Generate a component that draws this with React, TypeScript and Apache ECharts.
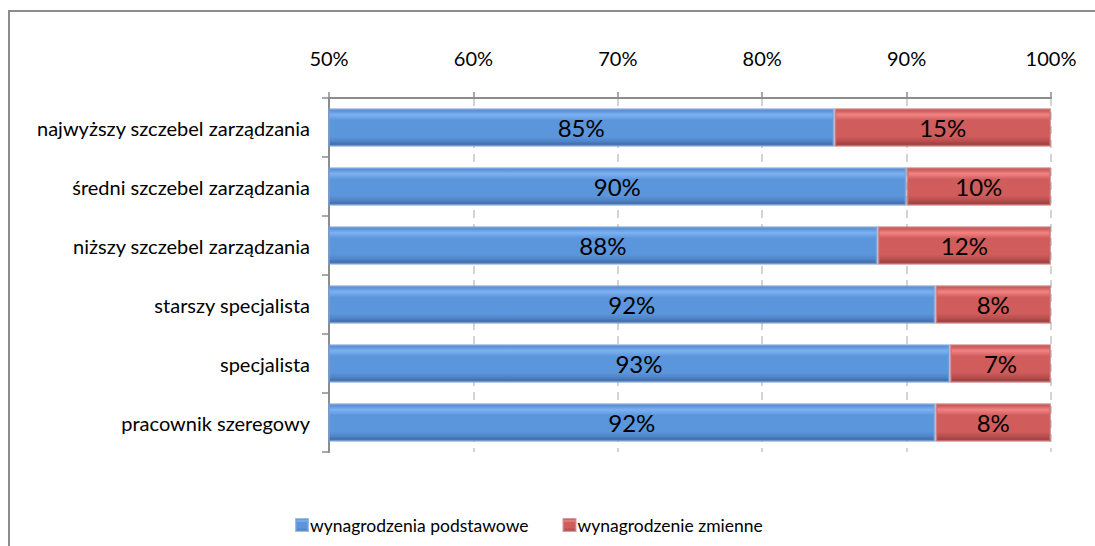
import React, { useEffect, useRef } from "react";
import * as echarts from "echarts";

const categories = [
  "najwyższy szczebel zarządzania",
  "średni szczebel zarządzania",
  "niższy szczebel zarządzania",
  "starszy specjalista",
  "specjalista",
  "pracownik szeregowy",
];
const seriesNames = ["wynagrodzenia podstawowe", "wynagrodzenie zmienne"];
const basicPay = [85, 90, 88, 92, 93, 92];
const variablePay = [15, 10, 12, 8, 7, 8];
const xTicks = [50, 60, 70, 80, 90, 100];

const FONT = "Lato, 'Open Sans', sans-serif";

function grad(top: string, hi: string, mid: string, low: string, bottom: string) {
  return new echarts.graphic.LinearGradient(0, 0, 0, 1, [
    { offset: 0, color: top },
    { offset: 0.15, color: hi },
    { offset: 0.3, color: mid },
    { offset: 0.75, color: mid },
    { offset: 0.88, color: low },
    { offset: 1, color: bottom },
  ]);
}

export default function App() {
  const ref = useRef<HTMLDivElement>(null);
  useEffect(() => {
    if (!ref.current) return;
    const chart = echarts.init(ref.current, undefined, { renderer: "svg" });
    const blue = grad("#4F86CF", "#7DB2F2", "#5B96DC", "#4F84C8", "#3C6398");
    const red = grad("#C04E4E", "#F28484", "#D05C5C", "#B84E4E", "#8E3B3B");
    chart.setOption({
      animation: false,
      backgroundColor: "#fff",
      textStyle: { fontFamily: FONT },
      graphic: [
        {
          type: "rect",
          shape: { x: 9, y: 11, width: 1200, height: 600 },
          style: { fill: "none", stroke: "#8c8c8c", lineWidth: 2 },
          silent: true,
        },
      ],
      grid: { left: 329, right: 44, top: 98, bottom: 94 },
      xAxis: {
        type: "value",
        position: "top",
        min: 50,
        max: 100,
        interval: 10,
        axisLine: { show: true, lineStyle: { color: "#8c8c8c", width: 2 } },
        axisTick: { show: true, length: 6, lineStyle: { color: "#8c8c8c", width: 1.5 } },
        axisLabel: {
          margin: 30,
          fontSize: 20,
          color: "#000",
          fontFamily: FONT,
          formatter: (v: number) => (xTicks.includes(v) ? v + "%" : ""),
        },
        splitLine: {
          show: true,
          lineStyle: { color: "#d4d4d4", type: [8, 6], width: 2 },
        },
      },
      yAxis: {
        type: "category",
        inverse: true,
        data: categories,
        axisLine: { show: true, lineStyle: { color: "#8c8c8c", width: 2 } },
        axisTick: { show: true, length: 7, lineStyle: { color: "#8c8c8c", width: 1.5 } },
        axisLabel: { margin: 19, fontSize: 20, color: "#000", fontFamily: FONT },
      },
      legend: {
        left: 290,
        top: 511,
        itemWidth: 12,
        itemHeight: 12,
        itemGap: 34,
        icon: "rect",
        textStyle: { fontSize: 17.5, color: "#000", fontFamily: FONT, padding: [0, 0, 0, -3] },
        data: seriesNames,
      },
      series: [
        {
          name: seriesNames[0],
          type: "bar",
          stack: "total",
          data: basicPay,
          barCategoryGap: "35%",
          clip: true,
          itemStyle: { color: blue, borderColor: "rgba(120,160,215,0.7)", borderWidth: 2 },
          label: {
            show: true,
            position: "inside",
            fontSize: 24,
            color: "#000",
            fontFamily: FONT,
            formatter: "{c}%",
          },
        },
        {
          name: seriesNames[1],
          type: "bar",
          stack: "total",
          data: variablePay,
          clip: true,
          itemStyle: { color: red, borderColor: "rgba(200,110,110,0.7)", borderWidth: 2 },
          label: {
            show: true,
            position: "inside",
            fontSize: 24,
            color: "#000",
            fontFamily: FONT,
            formatter: "{c}%",
          },
        },
      ],
    });
    return () => chart.dispose();
  }, []);
  return (
    <div
      ref={ref}
      style={{ position: "fixed", left: 0, top: 0, width: 1095, height: 546 }}
    />
  );
}
